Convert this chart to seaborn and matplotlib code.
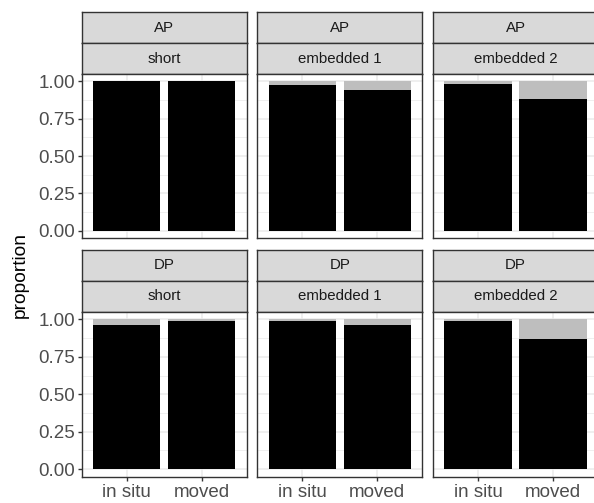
import pandas as pd
import matplotlib
matplotlib.use("Agg")
import matplotlib.pyplot as plt
import seaborn as sns

# ---- data ----
phrase = ["AP", "AP", "AP", "DP", "DP", "DP"]
length = ["short", "embedded 1", "embedded 2", "short", "embedded 1", "embedded 2"]
positions = ["in situ", "moved"]
prop_in_situ = [1.000, 0.978, 0.985, 0.962, 0.990, 0.990]
prop_moved = [1.000, 0.940, 0.885, 0.990, 0.962, 0.869]
y_ticks = [0.0, 0.25, 0.5, 0.75, 1.0]
y_ticklabels = ["0.00", "0.25", "0.50", "0.75", "1.00"]

rows = []
for i in range(len(phrase)):
    for pos, p in zip(positions, [prop_in_situ[i], prop_moved[i]]):
        rows.append({"panel": i, "phrase": phrase[i], "length": length[i],
                     "position": pos, "prop": p, "total": 1.0})
df = pd.DataFrame(rows)

plt.rcParams['font.family'] = ['Liberation Sans', 'DejaVu Sans']

W, H = 594, 503
fig = plt.figure(figsize=(W / 100, H / 100), dpi=100)

col_x = [81.7, 257.3, 433.0]
col_w = 165.0
# (strip1 top, strip2 top, panel top, panel bottom) in pixels from top
row_y = [(12.3, 43.3, 74.0, 238.3), (249.5, 281.0, 312.0, 476.7)]

border = "#333333"
strip_fill = "#D9D9D9"
grid_col = "#EBEBEB"


def frac(x, ytop, w, h):
    return [x / W, 1 - (ytop + h) / H, w / W, h / H]


def make_strip(x, ytop, ybot, label):
    sax = fig.add_axes(frac(x, ytop, col_w, ybot - ytop))
    sax.set_facecolor(strip_fill)
    sax.set_xticks([])
    sax.set_yticks([])
    for s in sax.spines.values():
        s.set_color(border)
        s.set_linewidth(1.0)
    sax.text(0.5, 0.5, label, ha="center", va="center", fontsize=10.8,
             color="#1A1A1A", transform=sax.transAxes)


for i in range(len(phrase)):
    r, c = divmod(i, 3)
    s1, s2, ptop, pbot = row_y[r]
    x = col_x[c]
    make_strip(x, s1, s2, phrase[i])
    make_strip(x, s2, ptop, length[i])

    ax = fig.add_axes(frac(x, ptop, col_w, pbot - ptop))
    d = df[df["panel"] == i]
    # grey = remainder up to 1, black = proportion drawn on top
    sns.barplot(data=d, x="position", y="total", order=positions, color="#BEBEBE",
                saturation=1, width=0.9, errorbar=None, linewidth=0, ax=ax)
    sns.barplot(data=d, x="position", y="prop", order=positions, color="black",
                saturation=1, width=0.9, errorbar=None, linewidth=0, ax=ax)
    ax.set_xlim(-0.6, 1.6)
    ax.set_ylim(-0.05, 1.05)
    ax.set_yticks(y_ticks)
    ax.set_yticks([0.125, 0.375, 0.625, 0.875], minor=True)
    ax.set_axisbelow(True)
    ax.grid(axis="y", which="major", color=grid_col, linewidth=1.1)
    ax.grid(axis="y", which="minor", color=grid_col, linewidth=0.55)
    ax.grid(axis="x", which="major", color=grid_col, linewidth=1.1)
    ax.set_xlabel("")
    ax.set_ylabel("")
    for s in ax.spines.values():
        s.set_color(border)
        s.set_linewidth(1.0)
    ax.tick_params(which="minor", length=0)
    ax.tick_params(which="major", length=2.75, width=1.0, color=border,
                   labelcolor="#4D4D4D", pad=2.2)
    ax.tick_params(axis="y", labelsize=13.5)
    ax.tick_params(axis="x", labelsize=13.5)
    if c == 0:
        ax.set_yticklabels(y_ticklabels)
    else:
        ax.tick_params(axis="y", left=False, labelleft=False)
    if r == 0:
        ax.tick_params(axis="x", bottom=False, labelbottom=False)

fig.text(20 / W, 1 - 275 / H, "proportion", rotation=90, ha="center", va="center",
         fontsize=13.8, color="black")

fig.savefig("out.png", dpi=100)
